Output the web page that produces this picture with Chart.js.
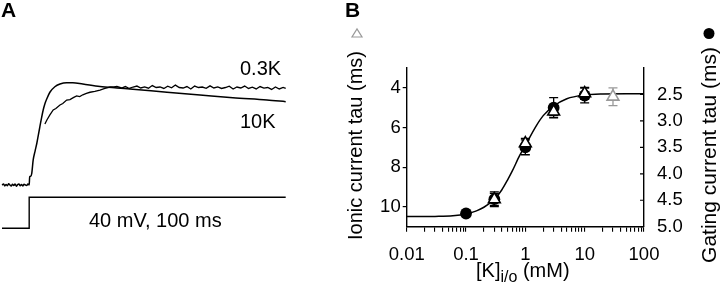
<!DOCTYPE html>
<html><head><meta charset="utf-8">
<script src="https://cdn.jsdelivr.net/npm/chart.js@4.4.1/dist/chart.umd.min.js"></script>
<style>
html,body{margin:0;padding:0;background:#fff;width:720px;height:284px;overflow:hidden;}
#ca{position:absolute;left:0;top:0;}
#cb{position:absolute;left:330px;top:0;}
</style></head><body>
<canvas id="ca" width="330" height="284"></canvas>
<canvas id="cb" width="390" height="284"></canvas>
<script>
// ---------- Panel A data (time in ms, normalized current, voltage in mV) ----------
const timeK10 = [-10.6,-10,-9.5,-9,-8.5,-8,-7.5,-7,-6.5,-6,-5.5,-5,-4.5,-4,-3.5,-3,-2.5,-2,-1.5,-1,-0.5,0,0.2,0.6,1.0,1.56,2.3,3.0,3.6,4.17,4.8,5.46,6.1,6.79,8.07,10.0,12.0,14.6,17.0,20.9,27.6,34.2,40.4,53.7,66.6,79.4,92.7,100];
const currentK10 = [0.0,0.01,-0.01,0.005,-0.008,0.012,0,-0.01,0.008,-0.005,0.01,-0.012,0.004,0.01,-0.008,0.006,-0.01,0.008,0,-0.006,0.01,0.0,0.086,0.09,0.12,0.258,0.35,0.433,0.52,0.601,0.69,0.773,0.835,0.884,0.956,1.013,1.041,1.055,1.055,1.041,1.015,1.0,0.987,0.956,0.928,0.9,0.876,0.859];
const timeK03 = [6.12,6.9,8.07,9.36,10.4,12.0,13.1,14.6,15.9,17.2,18.5,19.7,20.9,22.3,23.7,25.6,27.6,29.5,31.5,33,34.2,36,37.5,39,40.5,42,43.5,45,46.5,48,49.5,51,52.5,54,55.5,57,58.5,60,61.5,63,64.5,66,67.5,69,70.5,72,73.5,75,76.5,78,79.5,81,82.5,84,85.5,87,88.5,90,91.5,93,94.5,96,97.5,99,100];
const currentK03 = [0.629,0.67,0.722,0.773,0.789,0.825,0.84,0.876,0.88,0.9,0.918,0.912,0.93,0.945,0.956,0.965,0.979,0.995,1.01,1.012,1.015,1.0,1.015,0.995,1.01,1.02,1.0,1.012,0.998,1.025,1.005,1.01,0.995,1.018,1.002,1.03,1.005,1.0,1.015,0.99,1.02,1.005,1.01,0.997,1.022,1.0,1.012,0.995,1.005,1.018,0.99,1.01,1.0,1.02,0.995,1.008,0.99,1.015,0.998,1.005,0.985,1.01,0.99,1.005,0.995];
const stepTime = [-10.6, 0, 0, 100];
const stepVoltage = [-80, -80, 40, 40];

// ---------- Panel B data ----------
const concIonic = [0.3, 1, 3, 10, 30];
const tauIonic = [9.62, 6.80, 5.20, 4.28, 4.45];
const errIonic = [0.3, 0.25, 0.2, 0.3, 0.45];
const concGating = [0.1, 0.3, 1, 3, 10];
const tauGating = [4.75, 4.48, 3.50, 2.75, 2.52];
const errGating = [0, 0.14, 0.14, 0.19, 0.14];
const fitConc = [0.01,0.03,0.06,0.1,0.15,0.2,0.3,0.4,0.5,0.6,0.8,1,1.5,2,3,5,10,20,50,100];
const fitTau = [10.49,10.48,10.45,10.36,10.2,10.02,9.62,9.15,8.65,8.2,7.42,6.9,5.95,5.4,4.92,4.55,4.36,4.31,4.3,4.3];
const xTickValues = [0.01, 0.1, 1, 10, 100];
const xTickLabels = ['0.01','0.1','1','10','100'];
const leftTicks = [4, 6, 8, 10];
const rightTicks = [2.5, 3.0, 3.5, 4.0, 4.5, 5.0];

const FONT = '"Liberation Sans", Arial, sans-serif';
const pts = (xs, ys) => xs.map((x, i) => ({x, y: ys[i]}));

// ---------- Panel A ----------
const textA = {
  id: 'textA',
  afterDraw(chart) {
    const c = chart.ctx;
    c.save();
    c.fillStyle = '#000';
    c.textBaseline = 'alphabetic';
    c.textAlign = 'left';
    c.font = 'bold 21px ' + FONT;
    c.fillText('A', 1, 17);
    c.font = '20px ' + FONT;
    c.fillText('0.3K', 240, 75);
    c.fillText('10K', 240, 128);
    c.fillText('40 mV, 100 ms', 89, 226.7);
    c.restore();
  }
};
new Chart(document.getElementById('ca'), {
  type: 'scatter',
  data: { datasets: [
    { data: pts(timeK10, currentK10), yAxisID: 'yI', showLine: true, borderColor: '#000', borderWidth: 1.5, pointRadius: 0, cubicInterpolationMode: 'monotone' },
    { data: pts(timeK03, currentK03), yAxisID: 'yI', showLine: true, borderColor: '#000', borderWidth: 1.3, pointRadius: 0, tension: 0 },
    { data: pts(stepTime, stepVoltage), yAxisID: 'yV', showLine: true, borderColor: '#000', borderWidth: 1.4, pointRadius: 0, tension: 0 }
  ]},
  options: {
    responsive: false, animation: false, devicePixelRatio: 1, events: [],
    layout: { padding: { left: 2, right: 44.3, top: 0, bottom: 0 } },
    plugins: { legend: { display: false }, tooltip: { enabled: false } },
    scales: {
      x: { type: 'linear', display: false, min: -10.6, max: 100 },
      yI: { type: 'linear', display: false, min: -1.0206, max: 1.907 },
      yV: { type: 'linear', display: false, min: -295.6, max: 803.8 }
    },
    clip: false
  },
  plugins: [textA]
});

// ---------- Panel B ----------
const minorTicks = [];
for (let e = -2; e <= 1; e++) for (let m = 1; m <= 9; m++) minorTicks.push(Number((m * Math.pow(10, e)).toPrecision(3)));
minorTicks.push(100);

const decorB = {
  id: 'decorB',
  beforeDatasetsDraw(chart) {
    const c = chart.ctx, xs = chart.scales.x, yl = chart.scales.y, yr = chart.scales.y2;
    c.save();
    c.lineWidth = 1.3;
    const bar = (x, v, e, sc, col) => {
      if (!e) return;
      const px = xs.getPixelForValue(x), t = sc.getPixelForValue(v - e), b = sc.getPixelForValue(v + e);
      c.strokeStyle = col;
      c.beginPath();
      c.moveTo(px, t); c.lineTo(px, b);
      c.moveTo(px - 4.5, t); c.lineTo(px + 4.5, t);
      c.moveTo(px - 4.5, b); c.lineTo(px + 4.5, b);
      c.stroke();
    };
    concGating.forEach((x, i) => bar(x, tauGating[i], errGating[i], yr, '#000'));
    concIonic.forEach((x, i) => bar(x, tauIonic[i], errIonic[i], yl, i === concIonic.length - 1 ? '#999' : '#000'));
    c.restore();
  },
  afterDraw(chart) {
    const c = chart.ctx, yr = chart.scales.y2, a = chart.chartArea;
    c.save();
    // inward ticks on right axis
    c.strokeStyle = '#000'; c.lineWidth = 1.2;
    c.beginPath();
    rightTicks.forEach(v => { const py = yr.getPixelForValue(v); c.moveTo(a.right - 4, py); c.lineTo(a.right, py); });
    c.stroke();
    c.fillStyle = '#000';
    c.textBaseline = 'alphabetic';
    c.font = 'bold 21px ' + FONT;
    c.textAlign = 'left';
    c.fillText('B', 15, 17);
    // axis titles
    c.textAlign = 'right';
    c.font = '20px ' + FONT;
    c.save(); c.translate(32, 51); c.rotate(-Math.PI / 2); c.fillText('Ionic current tau (ms)', 0, 0); c.restore();
    c.font = '21px ' + FONT;
    c.save(); c.translate(386, 47); c.rotate(-Math.PI / 2); c.fillText('Gating current tau (ms)', 0, 0); c.restore();
    // series symbols
    c.strokeStyle = '#999'; c.lineWidth = 1.2;
    c.beginPath(); c.moveTo(22, 37); c.lineTo(32, 37); c.lineTo(27, 29); c.closePath(); c.stroke();
    c.fillStyle = '#000';
    c.beginPath(); c.arc(379, 33.5, 5.5, 0, Math.PI * 2); c.fill();
    // x title with subscript
    c.textAlign = 'left';
    let x0 = 146;
    c.font = '20px ' + FONT;
    c.fillText('[K]', x0, 277); x0 += c.measureText('[K]').width;
    c.font = '16px ' + FONT;
    c.fillText('i/o', x0, 282); x0 += c.measureText('i/o').width;
    c.font = '20px ' + FONT;
    c.fillText(' (mM)', x0, 277);
    c.restore();
  }
};

new Chart(document.getElementById('cb'), {
  type: 'scatter',
  data: { datasets: [
    { data: pts(concIonic, tauIonic), yAxisID: 'y', order: 1, pointStyle: 'triangle', pointRadius: 6.8,
      backgroundColor: '#fff', borderColor: concIonic.map((_, i) => i === concIonic.length - 1 ? '#999' : '#000'), borderWidth: 1.6 },
    { data: pts(concGating, tauGating), yAxisID: 'y2', order: 2, pointStyle: 'circle', pointRadius: 5.9,
      backgroundColor: '#000', borderColor: '#000', borderWidth: 0 },
    { data: pts(fitConc, fitTau), yAxisID: 'y', order: 3, showLine: true, pointRadius: 0, borderColor: '#000', borderWidth: 1.5,
      cubicInterpolationMode: 'monotone' }
  ]},
  options: {
    responsive: false, animation: false, devicePixelRatio: 1, events: [],
    layout: { padding: { left: 0, right: 0, top: 68, bottom: 0 } },
    plugins: { legend: { display: false }, tooltip: { enabled: false } },
    scales: {
      x: {
        type: 'logarithmic', position: 'bottom', min: 0.01, max: 100,
        afterBuildTicks: s => { s.ticks = minorTicks.map(v => ({ value: v })); },
        afterFit: s => { s.height = 57.3; },
        ticks: { autoSkip: false, maxRotation: 0, minRotation: 0, color: '#000', padding: 12, font: { size: 18.5, family: FONT },
          callback: v => { const i = xTickValues.findIndex(t => Math.abs(t - v) / t < 1e-6); return i >= 0 ? xTickLabels[i] : ''; } },
        grid: { drawOnChartArea: false, tickLength: 5, color: '#000', lineWidth: 1.1 },
        border: { color: '#000', width: 1.4 }
      },
      y: {
        type: 'linear', position: 'left', reverse: true, min: 3, max: 11,
        afterBuildTicks: s => { s.ticks = leftTicks.map(v => ({ value: v })); },
        afterFit: s => { s.width = 76.7; },
        ticks: { color: '#000', padding: 2, font: { size: 18.5, family: FONT } },
        grid: { drawOnChartArea: false, tickLength: 4, color: '#000', lineWidth: 1.2 },
        border: { color: '#000', width: 1.4 }
      },
      y2: {
        type: 'linear', position: 'right', reverse: true, min: 2, max: 5,
        afterBuildTicks: s => { s.ticks = rightTicks.map(v => ({ value: v })); },
        afterFit: s => { s.width = 76; },
        ticks: { color: '#000', padding: 13, font: { size: 18.5, family: FONT }, callback: v => Number(v).toFixed(1) },
        grid: { drawOnChartArea: false, drawTicks: false },
        border: { color: '#000', width: 1.4 }
      }
    },
    clip: false
  },
  plugins: [decorB]
});
</script>
</body></html>
